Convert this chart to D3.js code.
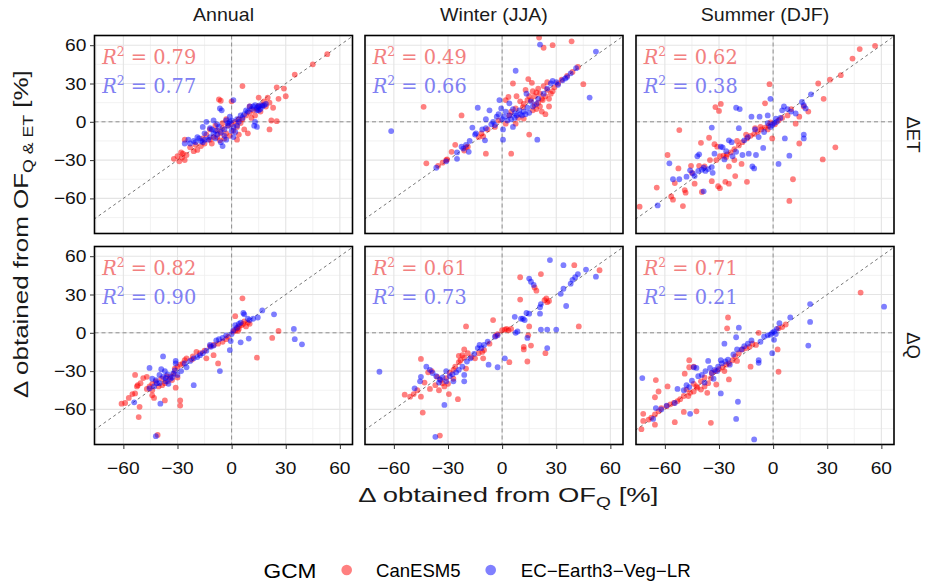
<!DOCTYPE html>
<html>
<head>
<meta charset="utf-8">
<script src="https://cdn.jsdelivr.net/npm/d3@7"></script>
<style>
  body { margin: 0; background: #fff; }
  svg { display: block; }
</style>
</head>
<body>
<svg id="chart" width="926" height="587"></svg>
<script>
// Facet labels
const periods = ["Annual", "Winter (JJA)", "Summer (DJF)"];
const variables = ["ΔET", "ΔQ"];
const models = ["CanESM5", "EC−Earth3−Veg−LR"];
const tickValues = [-60, -30, 0, 30, 60];
const minorTicks = [-75, -45, -15, 15, 45];

// Coefficients of determination, rows = variables, cols = periods
const r2CanESM5 = [[0.79, 0.49, 0.62], [0.82, 0.61, 0.71]];
const r2ECEarth = [[0.77, 0.66, 0.38], [0.90, 0.73, 0.21]];

// [Δ from OF_Q, Δ from OF_Q&ET] in %
const annualET_can = [[53,53],[45,45],[35,37],[25,27],[29,26],[30,20],[26,18],[20,19],[15,19],[6,28],[23,11],[22,1],[25,0.5],[21,-6],[9,-9],[7,-6],[3,-14],[-7,17.5],[-6,16.5],[0,16],[-26,-14],[-27,-25],[-27.5,-28],[-32,-29],[-29,-31],[-26,-30],[-30,-27],[-25,-26],[-28,-24],[-19,-22],[-21,-23],[-17,-19],[-15,-17],[-12,-14],[-10,-12],[-6.5,-14.5],[-3,-9],[-8,-7],[-5,-5],[-2,-3],[0,-2],[2,0],[4,2],[5,-1],[8,5],[10,7],[12,9],[14,10],[15,12],[17,13],[19,12],[16,8],[13,5],[11,3],[-12,-6],[-14,-10],[-9,-3],[-6,-9],[-4,-13],[-1,-11],[-11,-17],[-20,-18],[-23,-20],[-16,-13],[3,-4],[6,2],[-3,2],[-5,-1],[10,12],[18,16],[21,15],[1,-7],[-8,-12],[4,-10]];
const annualET_ec = [[9,8],[11,10],[12,12],[13,13],[14,11],[15,12],[16,13],[17,12],[18,13],[10,12],[14,9],[13,0],[14,-4],[12.5,-3],[-16,-4],[-6.5,10.5],[-5.5,9],[1,17],[-5,-19],[-24,-14],[-20,-16],[-17,-15],[-15,-14],[-13,-14],[-12,-12],[-10,-9],[-8,-10],[-11,-6],[-9,-7],[-7,-4],[-4,-6],[-3,1],[-1,0],[0,1],[1,-4],[2,-8],[3,-3],[-2,-3],[-6,-8],[-14,0],[-10,1],[-18,-13],[-21,-15],[-16,-16],[-9,-13],[-4,-11],[0,-7],[4,0],[6,3],[7,6],[8,9],[5,5],[3,2],[-1,4],[-2,-1],[-12,-5],[-15,-9],[-8,-2],[-3,-14],[-6,-16],[1,-12],[16,10],[19,14],[15,9],[-23,-17],[-26,-17],[-19,-12]];

const winterET_can = [[38.5,63],[28,60],[23,58],[20.5,66],[-43.5,11.7],[-22.5,5],[-42,-32.5],[-35.5,-34.5],[-30.5,-29.5],[-26,-18],[-28,-23.5],[-9,-25],[5,-25],[15,-10],[6,30],[14.5,33.5],[16.5,30.5],[13,25],[25,31],[45,29.5],[22.5,17],[24,6],[22,8],[2,17],[7.5,10.5],[11.5,11.5],[12,2.5],[7.5,-1.5],[2,-1.5],[3.5,19.5],[-10.5,-11.5],[-11.5,-9],[-19,-19.5],[-21,-22.5],[-31,-30],[-33,-32],[-20,-20],[-13,-12],[-8,-6],[18,20],[19,23],[20,26],[23,28],[25,25],[27,22],[29,27],[31,30],[24,20],[22,18],[20,15],[18,13],[16,17],[15,20],[17,24],[21,22],[26,18],[28,24],[33,33],[36,36],[39,39],[42,43],[12,14],[10,16],[14,17],[19,10],[21,12],[26,12],[17,9],[8,20],[5,8],[-4,-4],[-2,1],[4,5],[9,3]];
const winterET_ec = [[52,55],[21,60.5],[7.5,40],[48.5,19],[41,42],[38,38],[33.5,32.5],[30,31],[28,32],[35,34],[31,29],[27,30],[36,35],[-61.5,-7.3],[-36.5,-36],[-25,-29],[-21.5,-21],[-22.5,-19.5],[-18.5,-23.5],[-13.5,11],[-16.5,-4.5],[-14.5,-9],[-9.5,-14.5],[-9,-5],[-9,2],[-7,9],[-4,-2.5],[-1.5,17],[-0.5,10.5],[0.5,-14],[0.5,-6],[6,-4],[7,6.5],[9.5,9],[11,5],[13,6],[8,5],[4,5],[2,8],[1,4],[19.5,-14],[4,14.5],[13.5,22],[16,16],[19,14],[-5,0],[-3,4],[0,2],[3,1],[5,2],[7,3],[10,6],[12,8],[14,11],[6,10],[-2,6],[-6,-2],[-11,-6],[-15,-10],[-18,-15],[-20,-18],[-25,-24],[-31,-31],[15,7],[17,12],[20,18],[23,22],[25,26]];

const summerET_can = [[56.5,59.5],[48,57],[44,49.5],[37.5,36.5],[31.5,33],[25,30],[28,18],[19.5,8],[14.5,4],[12.5,-1.5],[14.5,-17],[34.5,-20],[27.5,-29.5],[11,-45],[9,-62],[-2,29.5],[-4.5,14.5],[-0.5,-13],[-29,14],[-32,11.5],[-30,8.5],[-52,-6.5],[-35.5,-12.5],[-40,-16.5],[-32.5,-17.5],[-31,-19.5],[-58.5,-26],[-52.5,-36.5],[-45.5,-34.5],[-41,-34.5],[-54.5,-48],[-64.5,-51.5],[-74,-66.5],[-56.5,-58.5],[-55.5,-61],[-50,-66],[-48.5,-55.5],[-49,-53.5],[-43.5,-48.5],[-39.5,-55],[-34,-46.5],[-30.5,-50.5],[-29.5,-52],[-26.5,-47],[-24.5,-48.5],[-21,-42.5],[-14.5,-47],[-26,-27.5],[-21.5,-30],[-24.5,-35],[-31.5,-30],[-29.5,-27],[-27.5,-26.5],[-25.5,-25.5],[-23.5,-24],[-21.5,-21.5],[-19,-18.5],[-17,-16],[-14.5,-13],[-12.5,-11],[-10.5,-9.5],[-8.5,-8],[-6.5,-6],[-4.5,-4.5],[-2.5,-3],[-1.5,-0.5],[-17.5,-33],[1,-2],[3,1],[5,3],[8,5],[10,10],[-10,-5],[-15,-10],[-7,-4],[-3,-6],[-20,-15],[-35,-30],[-38,-35],[-45,-40],[17,12]];
const summerET_ec = [[21,21.5],[16,15.5],[18,10.5],[17,13],[12.5,6.5],[10,8],[8,10],[6,12],[5,9],[-1.5,18],[-20.5,11],[-18.5,10],[-12,4],[-7.5,4],[-3,5],[1.5,2.5],[0.5,-1],[-0.5,-2.5],[-1.5,-4],[6.5,-13],[9,-26.5],[3,-33],[17,-10],[17,-13],[-5.5,-20.5],[-11.5,-35],[-10.5,-36.5],[-34,-4.5],[-29,-19.5],[-24.5,-14.5],[-19,-5],[-16,-14.5],[-13.5,-25],[-9.5,-26],[-17,-26],[-20.5,-23.5],[-22.5,-27],[-27,-29.5],[-28,-20],[-41,-25.5],[-42,-27],[-57.5,-32.5],[-55.5,-45],[-52,-45],[-44.5,-40.5],[-43.5,-42.5],[-41.5,-38.5],[-39.5,-37.5],[-38.5,-36],[-37.5,-38.5],[-36,-37],[-34,-35.5],[-33.5,-40],[-38.5,-54.5],[-64,-65.5],[-32.5,-25],[-8,-12],[-5,-8],[-3,-1],[2,0],[4,3],[-14,-12],[-10,-6],[-23,-16],[-26,-23],[-46,-38],[-48,-43]];

const annualQ_can = [[6,27],[26,1.5],[22.5,-4],[14,-19.5],[9,8],[2,13],[2,2],[3,3.5],[4,5],[5.5,6],[6.5,7],[8,5],[1,1],[3.5,1.5],[-2,-3],[-5,-7],[-7.5,-8.5],[-10,-9.5],[-12,-10.5],[-7.5,-24],[-10,-17.5],[-14,-20],[-17.5,-16],[-21.5,-18.5],[-25,-20],[-26,-21.5],[-27,-24],[-28.5,-25],[-30,-26.5],[-31.5,-28],[-32,-32],[-34,-34.5],[-35.5,-38],[-37,-39.5],[-38.5,-41],[-40.5,-42],[-42,-38],[-44,-40],[-45.5,-42],[-47,-34.5],[-49,-35.5],[-50.5,-39.5],[-52.5,-42],[-53.5,-47.5],[-55,-48],[-57,-51],[-59,-55],[-61,-55.5],[-53.5,-33],[-52,-41],[-51,-58],[-51.5,-66],[-44,-49],[-43,-51],[-37,-53],[-28.5,-53],[-28.5,-57],[-31,-43],[-19.5,-15],[-41,-80],[-39,-36],[-36,-34],[-33,-37],[-30,-35],[-44,-45],[-47,-44],[7,9],[4,3],[-3,-5],[-15,-14],[-22,-21],[10,7]];
const annualQ_ec = [[6.5,15.5],[7,14.5],[17,17.5],[23.5,14.5],[34.5,3],[35,-5],[39,-9],[9.5,-4.5],[5,-7.5],[-1,-13.5],[-0.5,-6.5],[10,10],[9,11],[12,11],[14.5,12],[4,7],[5,8],[-7,-5],[-8.5,-6],[-11.5,-11],[-12,-9.5],[-14,-14],[-17.5,-17.5],[-19,-19],[-21,-20],[-23,-22],[-26,-24],[-31,-22],[-31,-24],[-31.5,-29.5],[-32.5,-32],[-35.5,-32.5],[-38,-18.5],[-39,-28.5],[-45.5,-27.5],[-38,-34.5],[-36.5,-35.5],[-36.5,-38],[-40,-39.5],[-41.5,-39.5],[-44,-36],[-45.5,-43.5],[-39.5,-55.5],[-21,-41],[-54,-54.5],[-42,-81],[-6.5,-30],[-30,-33],[-28,-30],[-34,-36],[-37,-30],[-40,-33],[-42,-37],[1,2],[3,4],[2,6],[0,-1],[-3,-2],[-5,-4],[-10,-10],[-16,-16],[-25,-27],[-33,-35],[-35,-40],[-43,-42]];

const winterQ_can = [[54,49],[40,53],[21.5,46],[10,43.5],[18,35.5],[19,33],[10,26],[24.5,27],[25,24],[23.5,25.5],[26,25],[42.5,5],[15,5],[14.5,-2],[16,-10],[12,-11],[12,-13],[24,-16],[14,-22.5],[4,-23],[-5,10],[-20,5],[0,2],[1.5,2.5],[2.5,3],[3.5,2],[5,3],[-45,-20.5],[-41,-31],[-39,-30],[-44,-62.5],[-29.5,-48],[-24.5,-52],[-34.5,-80.5],[-54,-48.5],[-51,-50],[-49,-48],[-45,-50],[-40,-44],[-21,-13],[-22,-17.5],[-24,-18],[-10.5,-20],[-19,-16],[-17,-19],[-15,-20],[-13,-16],[-11,-15],[-10,-13.5],[-7,-8.5],[-3.5,-2.5],[-2.5,-1],[-36,-34.5],[-34,-37],[-33,-39.5],[-31,-35.5],[-29,-31.5],[-27,-29],[-26,-26.5],[-24,-23],[-23,-21.5],[-21,-19.5],[-30,-40],[-32,-42],[-35,-45],[-37,-41],[-43,-39],[-47,-45],[-27,-36],[-20,-28]];
const winterQ_ec = [[26.5,57],[34,53],[46.5,49.5],[52,44],[42,46],[40.5,43.5],[39,41.5],[38,38.5],[34,34.5],[32.5,30.5],[15,42.5],[16,40],[17.5,37.5],[21.5,22.5],[21,20],[21,15],[11.5,11],[12.5,10],[10.5,11],[7,12.5],[15,15],[13.5,15.5],[21.5,2.5],[25,2.5],[30,2.5],[35.5,21],[14,-4],[25,-12],[1.5,-20],[-2.5,-27],[-7.5,-25],[8.5,1],[7.5,0],[-2.5,-2],[-4,-3],[-8,-7],[-10,-9.5],[-11.5,-12],[-68,-30.5],[-37,-81.5],[-32,-56.5],[-21,-38],[-21,-33],[-48.5,-43.5],[-45,-34.5],[-45.5,-38],[-42,-26.5],[-40,-29],[-38.5,-31.5],[-36.5,-34],[-34.5,-36.5],[-33,-35],[-31,-38],[-29,-34],[-27.5,-32.5],[-25.5,-31],[-24,-29],[-22,-26.5],[-19.5,-22.5],[-17.5,-20],[-15.5,-16.5],[-13.5,-12],[-12.5,-9.5],[-31,-30],[-35,-39],[-27,-38]];

const summerQ_can = [[48.5,31.5],[-25,12],[-25.5,3.5],[-8,0],[7,6.5],[5,4.5],[3,3.5],[2.5,-13],[3,-30.5],[-12.5,-26.5],[-9.5,-9.5],[-11.5,-8.5],[-13,-11],[-15,-12],[-17,-13],[-19,-16],[-21,-18.5],[-22.5,-21.5],[-24.5,-24],[-26,-25],[-28,-27],[-30,-28.5],[-32,-30],[-34,-31.5],[-34.5,-35.5],[-36,-39.5],[-38,-42],[-40,-44.5],[-42,-43],[-44,-46],[-46,-47],[-47,-49.5],[-48,-44.5],[-49.5,-49.5],[-51.5,-52],[-53,-53.5],[-55,-55],[-57,-56],[-59,-57.5],[-62,-59],[-63.5,-61.5],[-65.5,-64],[-67.5,-66.5],[-69,-68],[-72,-69],[-73,-75.5],[-72,-63.5],[-65.5,-50.5],[-63.5,-46],[-65,-37],[-58.5,-42],[-46.5,-21.5],[-49,-32],[-46.5,-27],[-44,-26.5],[-42.5,-61.5],[-49.5,-62],[-54.5,-70],[-34.5,-70.5],[-24.5,-36.5],[-31.5,-40.5],[-36.5,-47],[-42.5,-42],[-65.5,-72],[-40,-38],[-38,-35],[-20,-22],[-27,-30],[-44,-40]];
const summerQ_ec = [[61.5,20.5],[20.5,22.5],[20.5,8.5],[19.5,-10],[9.5,12],[3.5,7.5],[0.5,1],[-0.5,0],[-1.5,-1.5],[1.5,-1],[0.5,-5.5],[-0.5,-16],[-8,-21.5],[-8,-23.5],[-19,4],[-20.5,-3.5],[-27,-8.5],[-29,-21.5],[-29,-47.5],[-19.5,-54],[-20.5,-67.5],[-10.5,-83.5],[-14,-8.5],[-16,-10.5],[-17.5,-13],[-20,-13],[-22,-17],[-25,-21],[-26.5,-22.5],[-28.5,-24],[-30.5,-26.5],[-32.5,-29],[-34,-31.5],[-35,-27.5],[-37.5,-30],[-39.5,-33],[-41.5,-34],[-42.5,-27.5],[-44,-27],[-45,-37.5],[-46.5,-42.5],[-48,-41],[-49.5,-45],[-53,-44],[-54.5,-55],[-65,-59],[-66.5,-67.5],[-72.5,-35.5],[-46,-63.5],[-38,-39],[-33,-36],[-24,-25],[-12,-6],[-7,-7],[-5,-3],[-3,-2],[2,3],[-36,-22],[-31,-30],[-59,-57],[-62,-60]];

// Series arranged as [variable row][period column]
const canSeries = [[annualET_can, winterET_can, summerET_can], [annualQ_can, winterQ_can, summerQ_can]];
const ecSeries  = [[annualET_ec, winterET_ec, summerET_ec], [annualQ_ec, winterQ_ec, summerQ_ec]];

// ---- layout ----
const panelW = 258, panelH = 198;
const colX = [94.5, 365, 636];
const rowY = [35.5, 246.5];
const sans = "'Liberation Sans', Arial, Helvetica, sans-serif";
const serif = "'DejaVu Serif', serif";
const redPt = "#ff0000", bluePt = "#0000ff";
const redTxt = "rgb(242,128,128)", blueTxt = "rgb(128,128,242)";

const x = d3.scaleLinear().domain([-76, 67]).range([0, panelW]);
const y = d3.scaleLinear().domain([-87.5, 67.6]).range([panelH, 0]);

const svg = d3.select("#chart");

// Text stretched along its reading direction to a given width (or by factor k)
function placeText(parent, parts, o) {
  const g = parent.append("g");
  const t = g.append("text").attr("x", 0).attr("y", 0)
    .style("font-family", o.family || sans)
    .style("font-size", o.size + "px")
    .attr("fill", o.fill || "#1a1a1a");
  parts.forEach(p => {
    const ts = t.append("tspan").text(p.t);
    if (p.size) ts.style("font-size", p.size + "px");
    if (p.dy) ts.attr("dy", p.dy);
    if (p.italic) ts.style("font-style", "italic");
    if (p.family) ts.style("font-family", p.family);
  });
  const w = t.node().getComputedTextLength();
  const k = o.width ? o.width / w : (o.k || 1);
  const W = w * k;
  const left = o.align === "middle" ? o.x - W / 2 : o.align === "end" ? o.x - W : o.x;
  const rot = o.rotate ? ` rotate(${o.rotate})` : "";
  g.attr("transform", `translate(${o.rotate ? o.x : left},${o.y})${rot} scale(${k},1)`);
  return g;
}

const fmtTick = d => d < 0 ? "−" + Math.abs(d) : String(d);

for (let r = 0; r < 2; r++) {
  for (let c = 0; c < 3; c++) {
    const px = colX[c], py = rowY[r];
    const g = svg.append("g").attr("transform", `translate(${px},${py})`);
    const clipId = `clip-${r}-${c}`;
    g.append("clipPath").attr("id", clipId)
      .append("rect").attr("width", panelW).attr("height", panelH);
    const body = g.append("g").attr("clip-path", `url(#${clipId})`);

    body.append("rect").attr("width", panelW).attr("height", panelH).attr("fill", "#fff");

    // minor grid
    body.selectAll(".vmin").data(minorTicks).join("line")
      .attr("x1", d => x(d)).attr("x2", d => x(d)).attr("y1", 0).attr("y2", panelH)
      .attr("stroke", "#efefef").attr("stroke-width", 0.8);
    body.selectAll(".hmin").data(minorTicks).join("line")
      .attr("y1", d => y(d)).attr("y2", d => y(d)).attr("x1", 0).attr("x2", panelW)
      .attr("stroke", "#efefef").attr("stroke-width", 0.8);
    // major grid
    body.selectAll(".vmaj").data(tickValues).join("line")
      .attr("x1", d => x(d)).attr("x2", d => x(d)).attr("y1", 0).attr("y2", panelH)
      .attr("stroke", "#e4e4e4").attr("stroke-width", 1.1);
    body.selectAll(".hmaj").data(tickValues).join("line")
      .attr("y1", d => y(d)).attr("y2", d => y(d)).attr("x1", 0).attr("x2", panelW)
      .attr("stroke", "#e4e4e4").attr("stroke-width", 1.1);

    // zero reference lines
    body.append("line").attr("x1", x(0)).attr("x2", x(0)).attr("y1", 0).attr("y2", panelH)
      .attr("stroke", "#8e8e8e").attr("stroke-width", 1).attr("stroke-dasharray", "4,3");
    body.append("line").attr("x1", 0).attr("x2", panelW).attr("y1", y(0)).attr("y2", y(0))
      .attr("stroke", "#8e8e8e").attr("stroke-width", 1).attr("stroke-dasharray", "4,3");

    // 1:1 line
    body.append("line")
      .attr("x1", x(-90)).attr("y1", y(-90)).attr("x2", x(90)).attr("y2", y(90))
      .attr("stroke", "#3a3a3a").attr("stroke-width", 0.7).attr("stroke-dasharray", "3,3");

    // points
    body.append("g").selectAll("circle").data(canSeries[r][c]).join("circle")
      .attr("cx", d => x(d[0])).attr("cy", d => y(d[1])).attr("r", 2.9)
      .attr("fill", redPt).attr("fill-opacity", 0.5);
    body.append("g").selectAll("circle").data(ecSeries[r][c]).join("circle")
      .attr("cx", d => x(d[0])).attr("cy", d => y(d[1])).attr("r", 2.9)
      .attr("fill", bluePt).attr("fill-opacity", 0.5);

    // R² annotations
    const r2Lines = [[r2CanESM5[r][c], redTxt, 22.9], [r2ECEarth[r][c], blueTxt, 0.6]];
    r2Lines.forEach(([v, col, yv]) => {
      placeText(g, [
        { t: "R", italic: true },
        { t: "2", size: 12.5, dy: -8 },
        { t: " = " + v.toFixed(2), dy: 8 }
      ], { family: serif, size: 19.5, fill: col, x: x(-71.7), y: y(yv + 22.3), width: 94 });
    });

    // frame
    g.append("rect").attr("width", panelW).attr("height", panelH)
      .attr("fill", "none").attr("stroke", "#000").attr("stroke-width", 1.6);
  }
}

// axes ticks
for (let r = 0; r < 2; r++) {
  const ax = svg.append("g").attr("transform", `translate(${colX[0]},${rowY[r]})`)
    .call(d3.axisLeft(y).tickValues(tickValues).tickSize(4.5).tickFormat(""));
  ax.select(".domain").remove();
  ax.selectAll(".tick line").attr("stroke", "#333").attr("stroke-width", 1);
  tickValues.forEach(v => {
    placeText(svg, [{ t: fmtTick(v) }], { size: 17, k: 1.13, align: "end",
      x: colX[0] - 8, y: rowY[r] + y(v) + 6.1, fill: "#111" });
  });
}
for (let c = 0; c < 3; c++) {
  const ax = svg.append("g").attr("transform", `translate(${colX[c]},${rowY[1] + panelH})`)
    .call(d3.axisBottom(x).tickValues(tickValues).tickSize(4.5).tickFormat(""));
  ax.select(".domain").remove();
  ax.selectAll(".tick line").attr("stroke", "#333").attr("stroke-width", 1);
  tickValues.forEach(v => {
    placeText(svg, [{ t: fmtTick(v) }], { size: 17, k: 1.13, align: "middle",
      x: colX[c] + x(v), y: 474, fill: "#111" });
  });
}

// facet strips
periods.forEach((p, c) => {
  placeText(svg, [{ t: p }], { size: 18, k: 1.09, align: "middle",
    x: colX[c] + panelW / 2, y: 20.5 });
});
variables.forEach((v, r) => {
  svg.append("text")
    .attr("transform", `translate(906.5,${rowY[r] + panelH / 2}) rotate(90)`)
    .attr("text-anchor", "middle")
    .style("font-family", sans).style("font-size", "18.5px")
    .attr("fill", "#1a1a1a").text(v);
});

// axis titles
placeText(svg, [
  { t: "Δ obtained from OF" },
  { t: "Q", size: 14, dy: 5 },
  { t: " [%]", dy: -5 }
], { size: 20, x: 358.3, y: 501.5, width: 300 });

placeText(svg, [
  { t: "Δ obtained from OF" },
  { t: "Q & ET", size: 14, dy: 5 },
  { t: " [%]", dy: -5 }
], { size: 20.5, x: 28.3, y: 398, width: 328, rotate: -90 });

// legend
placeText(svg, [{ t: "GCM" }], { size: 21, x: 263.5, y: 578.3, width: 53, fill: "#000" });
const legendItems = [
  { label: models[0], fill: "#ff8080", cx: 346.7, tx: 376, w: 84.7 },
  { label: models[1], fill: "#8080ff", cx: 490.7, tx: 520.7, w: 170 }
];
legendItems.forEach(it => {
  svg.append("circle").attr("cx", it.cx).attr("cy", 570).attr("r", 5.3).attr("fill", it.fill);
  placeText(svg, [{ t: it.label }], { size: 17.5, x: it.tx, y: 576.7, width: it.w, fill: "#000" });
});
</script>
</body>
</html>
